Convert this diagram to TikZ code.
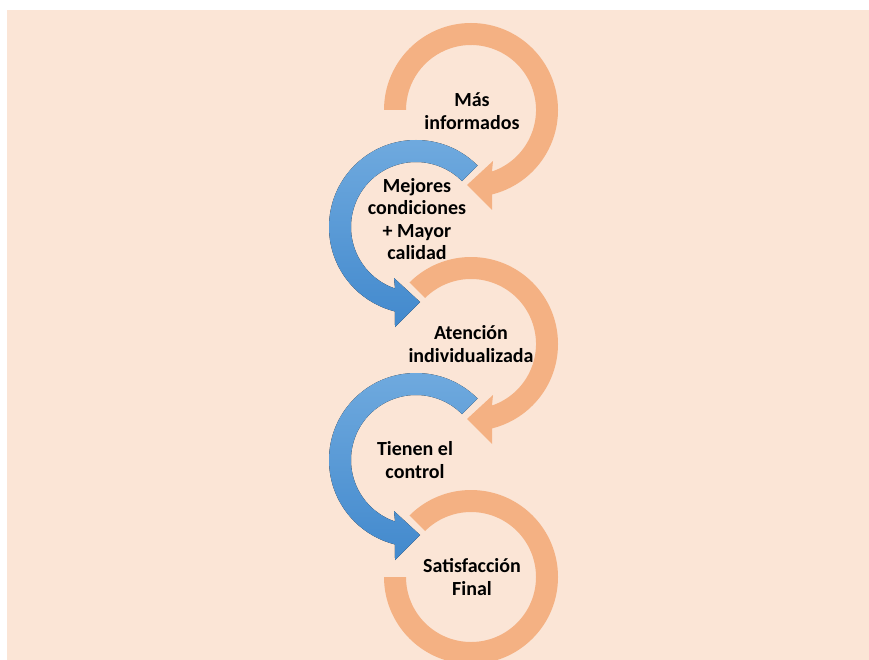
\documentclass[tikz,border=0pt]{standalone}
\usepackage{fontspec}
\setmainfont{Carlito}
\definecolor{bgpeach}{RGB}{251,229,214}
\definecolor{arrorange}{RGB}{244,177,131}
\definecolor{bluetop}{RGB}{113,171,223}
\definecolor{bluebot}{RGB}{66,137,205}
\newcommand\cwArrow[3]{%
 \begin{scope}[shift={(#1,#2)}]
  \fill[orangefill] (#3:87) arc[start angle=#3,end angle=436,radius=87]
    -- (21,100) -- (-4,75) -- (22,51) -- (431.2:65)
    arc[start angle=431.2,end angle=#3,radius=65] -- cycle;
 \end{scope}}
\newcommand\ccwArrow[3]{%
 \begin{scope}[shift={(#1,#2)}]
  \fill[bluefill] (#3:87) arc[start angle=#3,end angle=104,radius=87]
    -- (-21,100) -- (4,75) -- (-22,51) -- (108.8:65)
    arc[start angle=108.8,end angle=#3,radius=65] -- cycle;
 \end{scope}}
\begin{document}
\begin{tikzpicture}[x=1pt,y=-1pt,
  orangefill/.style={fill=arrorange},
  bluefill/.style={top color=bluetop,bottom color=bluebot},
  lbl/.style={font=\fontsize{20}{22.5}\selectfont\bfseries,align=center,inner sep=0pt,text=black}]
\useasboundingbox (0,0) rectangle (869,660);
\fill[bgpeach] (7,10) rectangle (869,660);
\coordinate (c1) at (471,110);
\coordinate (c2) at (416,227);
\coordinate (c3) at (471,344);
\coordinate (c4) at (416,460);
\coordinate (c5) at (471,577);
% circle arrows
\cwArrow{471}{110}{180}
\ccwArrow{416}{227}{315}
\cwArrow{471}{344}{225}
\ccwArrow{416}{460}{315}
\begin{scope}[shift={(471,577)}]
  \fill[orangefill] (225:87) arc[start angle=225,end angle=540,radius=87]
    -- (540:65) arc[start angle=540,end angle=225,radius=65] -- cycle;
\end{scope}
% labels
\node[lbl] (t1) at (472,111) {Más\\informados};
\node[lbl] (t2) at (417,219) {Mejores\\condiciones\\+ Mayor\\calidad};
\node[lbl] (t3) at (471,344) {Atención\\individualizada};
\node[lbl] (t4) at (415,460) {Tienen el\\control};
\node[lbl] (t5) at (472,577) {Satisfacción\\Final};
\end{tikzpicture}
\end{document}
